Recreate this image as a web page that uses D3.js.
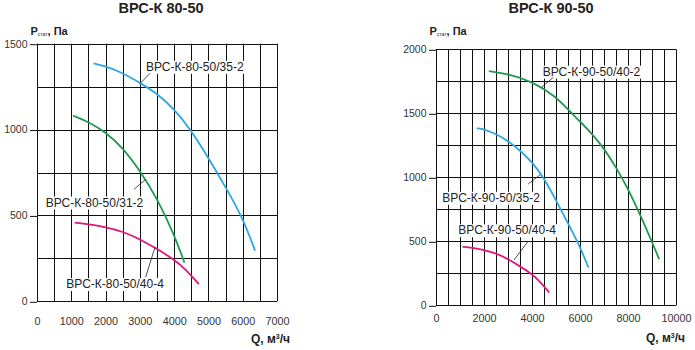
<!DOCTYPE html>
<html><head><meta charset="utf-8">
<script src="https://cdn.jsdelivr.net/npm/d3@7"></script>
<style>
html,body{margin:0;padding:0;background:#fff;}
svg text{font-family:"Liberation Sans",Arial,sans-serif;}
</style>
</head><body>
<svg id="c" width="695" height="350"></svg>
<script>
// ---------- data (Q, m3/h ; P, Pa) ----------
const titles = ["ВРС-К 80-50", "ВРС-К 90-50"];
const xTicksLeft = [0,1000,2000,3000,4000,5000,6000,7000];
const yTicksLeft = [0,500,1000,1500];
const xTicksRight = [0,2000,4000,6000,8000,10000];
const yTicksRight = [0,500,1000,1500,2000];

const names80 = ["ВРС-К-80-50/35-2","ВРС-К-80-50/31-2","ВРС-К-80-50/40-4"];
const q80_35_2 = [1650,2000,2500,3000,3500,4000,4500,5000,5500,6000,6360];
const p80_35_2 = [1385,1368,1330,1273,1210,1120,995,835,665,487,295];
const q80_31_2 = [1050,1500,2000,2500,3000,3500,4000,4300];
const p80_31_2 = [1082,1045,985,895,762,600,390,225];
const q80_40_4 = [1100,1500,2000,2500,3000,3500,4000,4300,4720];
const p80_40_4 = [458,450,432,407,362,305,243,193,100];

const names90 = ["ВРС-К-90-50/40-2","ВРС-К-90-50/35-2","ВРС-К-90-50/40-4"];
const q90_40_2 = [2200,3000,4000,5000,5500,6000,6500,7000,7500,8000,8500,9000,9300];
const p90_40_2 = [1830,1808,1750,1630,1528,1437,1340,1225,1080,910,710,495,360];
const q90_35_2 = [1700,2000,2500,3000,3500,4000,4500,5000,5500,6000,6350];
const p90_35_2 = [1383,1375,1340,1285,1210,1120,995,820,640,460,295];
const q90_40_4 = [1100,1500,2000,2500,3000,3500,4000,4300,4720];
const p90_40_4 = [458,450,432,407,362,305,243,193,100];

const colBlue = "#2aa9e0", colGreen = "#1f9a50", colMag = "#e2157d";

// ---------- layout ----------
const svg = d3.select("#c");
const panels = [
  {title:titles[0], tx:161, x0:37, x1:277, yTop:43.7, yBot:301.3, xMax:7000, yMax:1500,
   xTicks:xTicksLeft, yTicks:yTicksLeft, xLabBase:324.5, qLabX:290, qLabY:343,
   series:[
     {name:names80[0], q:q80_35_2, p:p80_35_2, c:colBlue,  lab:[3179,1342], lead:[[3019,1270],[3296,1328]]},
     {name:names80[1], q:q80_31_2, p:p80_31_2, c:colGreen, lab:[254,552],  lead:[[2829,652],[3170,710]]},
     {name:names80[2], q:q80_40_4, p:p80_40_4, c:colMag,   lab:[855,77],   lead:[[3170,141],[3442,316]]}
   ]},
  {title:titles[1], tx:551, x0:436, x1:676, yTop:49.3, yBot:305.3, xMax:10000, yMax:2000,
   xTicks:xTicksRight, yTicks:yTicksRight, xLabBase:321.5, qLabX:685, qLabY:341.5,
   series:[
     {name:names90[0], q:q90_40_2, p:p90_40_2, c:colGreen, lab:[4446,1794], lead:[[4404,1703],[4888,1781]]},
     {name:names90[1], q:q90_35_2, p:p90_35_2, c:colBlue,  lab:[262,809],   lead:[[3846,948],[4333,1018]]},
     {name:names90[2], q:q90_40_4, p:p90_40_4, c:colMag,   lab:[929,555],   lead:[[3250,354],[3846,502]]}
   ]}
];

panels.forEach(pn => {
  const x = d3.scaleLinear().domain([0,pn.xMax]).range([pn.x0,pn.x1]);
  const y = d3.scaleLinear().domain([0,pn.yMax]).range([pn.yBot,pn.yTop]);
  const g = svg.append("g");

  // title
  g.append("text").attr("x",pn.tx).attr("y",12.8).attr("text-anchor","middle")
    .attr("font-size","14.5px").attr("font-weight","bold").attr("fill","#222").text(pn.title);

  // y axis label
  const yl = g.append("text").attr("x",pn.x0-6.5).attr("y",34.5).attr("fill","#222").attr("font-weight","bold").attr("font-size","11px");
  yl.append("tspan").text("P");
  yl.append("tspan").attr("font-size","5px").attr("font-weight","normal").attr("dy","1.5").text("стат");
  yl.append("tspan").attr("dy","-1.5").text(", Па");

  // grid
  const gx = d3.range(0,pn.xMax+1,500);
  const gy = d3.range(0,pn.yMax+1,250);
  g.selectAll(".vg").data(gx).enter().append("line")
    .attr("x1",d=>Math.round(x(d))+0.5).attr("x2",d=>Math.round(x(d))+0.5)
    .attr("y1",y(pn.yMax)).attr("y2",y(0)).attr("stroke","#111").attr("stroke-width",1);
  g.selectAll(".hg").data(gy).enter().append("line")
    .attr("x1",x(0)).attr("x2",x(pn.xMax))
    .attr("y1",d=>Math.round(y(d))+0.5).attr("y2",d=>Math.round(y(d))+0.5).attr("stroke","#111").attr("stroke-width",1);

  // y axis
  const ya = d3.axisLeft(y).tickValues(pn.yTicks).tickFormat(d3.format("d")).tickSize(7).tickPadding(2.5);
  const yag = g.append("g").attr("transform",`translate(${x(0)},0)`).call(ya);
  yag.select(".domain").remove();
  yag.selectAll(".tick line").attr("stroke","#111").attr("transform","translate(0,0.5)");
  yag.selectAll("text").attr("font-size","10.5px").attr("fill","#333").attr("font-family","Liberation Sans, Arial, sans-serif");

  // x axis labels
  const xa = d3.axisBottom(x).tickValues(pn.xTicks).tickFormat(d3.format("d")).tickSize(0).tickPadding(0);
  const xag = g.append("g").attr("transform",`translate(0,${pn.xLabBase-8})`).call(xa);
  xag.select(".domain").remove();
  xag.selectAll("text").attr("dy","0").attr("y",8).attr("font-size","10.8px").attr("fill","#333").attr("font-family","Liberation Sans, Arial, sans-serif");

  // x axis title
  const xl = g.append("text").attr("x",pn.qLabX).attr("y",pn.qLabY).attr("text-anchor","end")
    .attr("font-size","12px").attr("font-weight","bold").attr("fill","#222");
  xl.append("tspan").text("Q, м");
  xl.append("tspan").attr("font-size","7px").attr("dy","-4").text("3");
  xl.append("tspan").attr("dy","4").text("/ч");

  // curves
  const line = d3.line().x(d=>x(d[0])).y(d=>y(d[1])).curve(d3.curveBasis);
  pn.series.forEach(s => {
    const pts = s.q.map((q,i)=>[q,s.p[i]]);
    g.append("path").datum(pts).attr("d",line).attr("fill","none")
      .attr("stroke",s.c).attr("stroke-width",1.8);
  });

  // labels
  pn.series.forEach(s => {
    const t = g.append("text").attr("x",x(s.lab[0])).attr("y",y(s.lab[1]))
      .attr("font-size","12px").attr("fill","#222").text(s.name);
    const bb = t.node().getBBox();
    g.insert("rect", () => t.node()).attr("x",bb.x-2).attr("y",bb.y+1).attr("width",bb.width+4).attr("height",bb.height-1).attr("fill","#fff");
    g.append("line").attr("x1",x(s.lead[0][0])).attr("y1",y(s.lead[0][1]))
      .attr("x2",x(s.lead[1][0])).attr("y2",y(s.lead[1][1]))
      .attr("stroke","#222").attr("stroke-width",0.8);
  });
});
</script>
</body></html>
